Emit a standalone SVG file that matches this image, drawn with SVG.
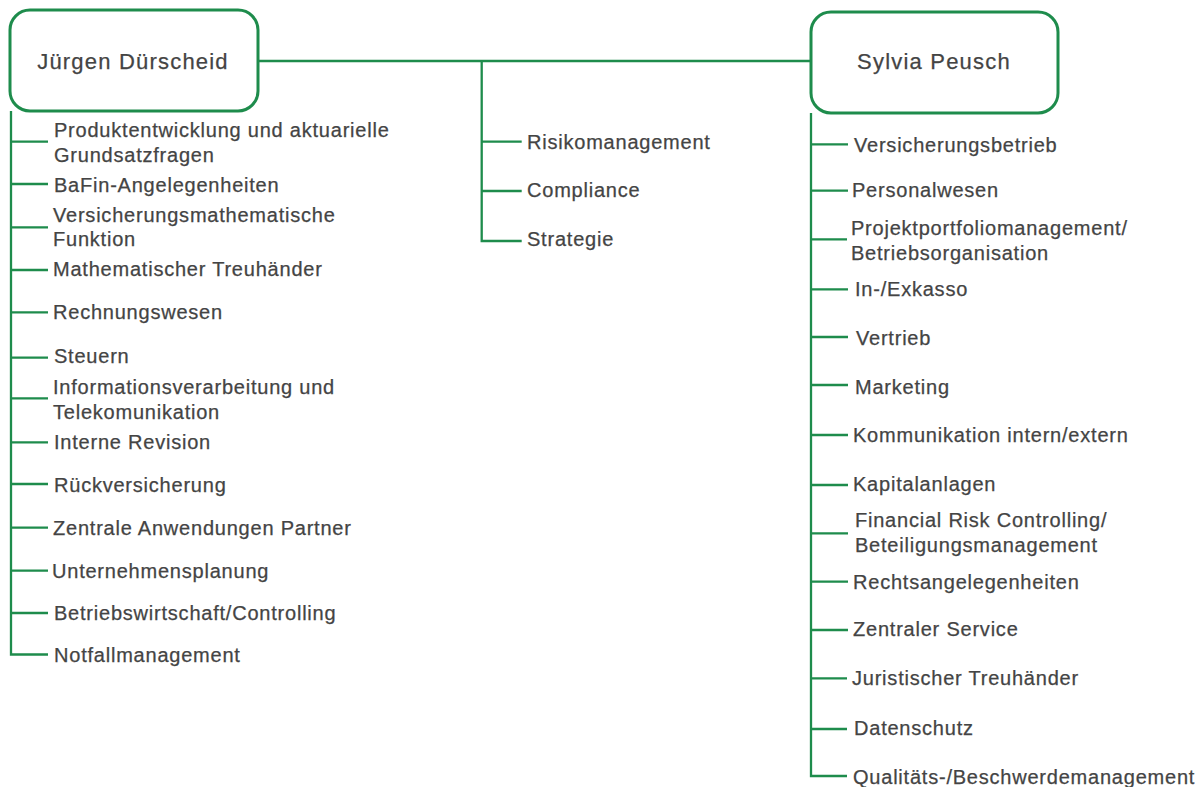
<svg xmlns="http://www.w3.org/2000/svg" width="1202" height="787" viewBox="0 0 1202 787">
<style>
.box{fill:#fff;stroke:#1e8c4c;stroke-width:3}
.ln{fill:none;stroke:#1e8c4c;stroke-width:2.3}
.h{font-family:"Liberation Sans",Arial,sans-serif;font-size:22px;letter-spacing:1.2px;fill:#444;stroke:#444;stroke-width:0.25;text-anchor:middle}
.t{font-family:"Liberation Sans",Arial,sans-serif;font-size:20px;letter-spacing:0.78px;fill:#444;stroke:#444;stroke-width:0.25}
</style>
<rect width="1202" height="787" fill="#fff"/>
<g id="connectors">
<path class="ln" d="M258 61H811"/>
<path class="ln" d="M11 111V654.5H48"/>
<path class="ln" d="M11 141.7H48M11 184H48M11 227.3H48M11 270H48M11 312.3H48M11 357.7H48M11 398.3H48M11 442.3H48M11 484H48M11 527.7H48M11 570.7H48M11 613H48"/>
<path class="ln" d="M481.7 61V241H521.7M481.7 141.7H521.7M481.7 191H521.7"/>
<path class="ln" d="M811 113V776H847"/>
<path class="ln" d="M811 144.3H848M811 190.7H848M811 239.3H847M811 289.3H848M811 337H848M811 385H848M811 435H848M811 485H848M811 533.3H848M811 581.7H848M811 630H848M811 678.3H847M811 729H847"/>
</g>
<g id="juergen">
<rect class="box" x="10" y="10" width="248" height="101" rx="20"/>
<text class="h" x="133" y="69">Jürgen Dürscheid</text>
</g>
<g id="sylvia">
<rect class="box" x="811" y="12" width="247" height="101" rx="20"/>
<text class="h" x="934" y="69">Sylvia Peusch</text>
</g>
<g id="left-items">
<text class="t" x="54" y="137">Produktentwicklung und aktuarielle</text>
<text class="t" x="54" y="162">Grundsatzfragen</text>
<text class="t" x="54" y="191.5">BaFin-Angelegenheiten</text>
<text class="t" x="53" y="222">Versicherungsmathematische</text>
<text class="t" x="53" y="246">Funktion</text>
<text class="t" x="53" y="276">Mathematischer Treuhänder</text>
<text class="t" x="53" y="318.5">Rechnungswesen</text>
<text class="t" x="54" y="363">Steuern</text>
<text class="t" x="53" y="393.5">Informationsverarbeitung und</text>
<text class="t" x="53" y="418.5">Telekomunikation</text>
<text class="t" x="54" y="449">Interne Revision</text>
<text class="t" x="54" y="492">Rückversicherung</text>
<text class="t" x="53" y="534.5">Zentrale Anwendungen Partner</text>
<text class="t" x="52" y="577.5">Unternehmensplanung</text>
<text class="t" x="54" y="620">Betriebswirtschaft/Controlling</text>
<text class="t" x="54" y="661.5">Notfallmanagement</text>
</g>
<g id="middle-items">
<text class="t" x="527" y="149">Risikomanagement</text>
<text class="t" x="527" y="196.5">Compliance</text>
<text class="t" x="527" y="246">Strategie</text>
</g>
<g id="right-items">
<text class="t" x="854" y="151.5">Versicherungsbetrieb</text>
<text class="t" x="852" y="197">Personalwesen</text>
<text class="t" x="851" y="234.5">Projektportfoliomanagement/</text>
<text class="t" x="851" y="259.5">Betriebsorganisation</text>
<text class="t" x="855" y="295.5">In-/Exkasso</text>
<text class="t" x="856" y="345">Vertrieb</text>
<text class="t" x="855" y="394">Marketing</text>
<text class="t" x="853" y="441.5">Kommunikation intern/extern</text>
<text class="t" x="853" y="490.5">Kapitalanlagen</text>
<text class="t" x="855" y="527">Financial Risk Controlling/</text>
<text class="t" x="855" y="551.5">Beteiligungsmanagement</text>
<text class="t" x="853" y="589">Rechtsangelegenheiten</text>
<text class="t" x="853" y="635.5">Zentraler Service</text>
<text class="t" x="852" y="685">Juristischer Treuhänder</text>
<text class="t" x="854" y="735">Datenschutz</text>
<text class="t" x="853" y="783.5">Qualitäts-/Beschwerdemanagement</text>
</g>
</svg>
